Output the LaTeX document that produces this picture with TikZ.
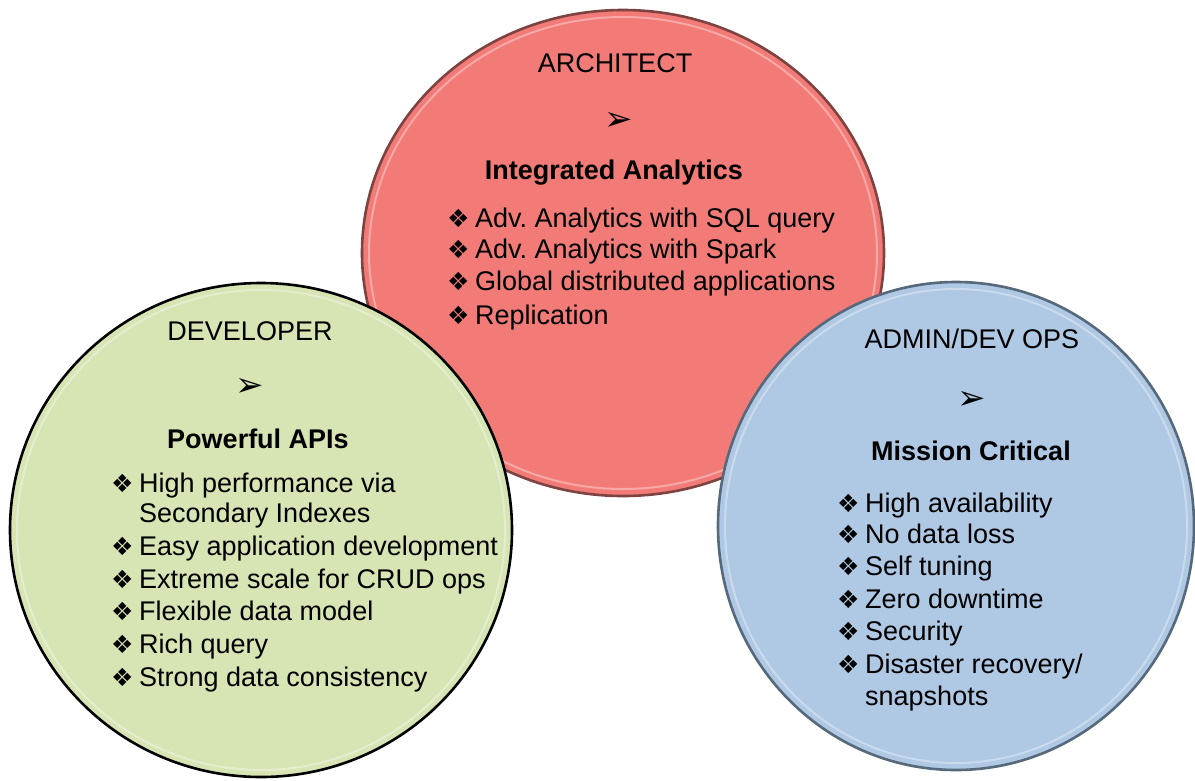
\documentclass[tikz,border=0pt]{standalone}
\usepackage{fontspec}
\setmainfont{Liberation Sans}
\newfontfamily\dingfont{DejaVu Sans}
\usetikzlibrary{shapes.geometric}
\definecolor{redfill}{HTML}{F27B78}
\definecolor{redline}{HTML}{7E4341}
\definecolor{greenfill}{HTML}{D7E4B4}
\definecolor{greenline}{HTML}{000000}
\definecolor{bluefill}{HTML}{AFC8E4}
\definecolor{blueline}{HTML}{56697B}
\newcommand{\bul}{\makebox[28pt][l]{\dingfont\fontsize{25}{25}\selectfont ❖}}
\frenchspacing
\begin{document}
\begin{tikzpicture}[x=1pt,y=-1pt,
  blob/.style={ellipse, inner sep=0pt, outer sep=0pt, line width=2.6pt},
  gloss/.style={draw=white, opacity=0.35, line width=2pt},
  lbl/.style={anchor=base, inner sep=0pt, font=\fontsize{27}{27}\selectfont},
  head/.style={anchor=base, inner sep=0pt, font=\bfseries\fontsize{27}{27}\selectfont},
  item/.style={anchor=base west, inner sep=0pt, font=\fontsize{27}{27}\selectfont},
  pointer/.style={inner sep=0pt, font=\dingfont\fontsize{34}{34}\selectfont}]
\useasboundingbox (0,0) rectangle (1195,780);

% ARCHITECT
\node[blob, fill=redfill, draw=redline, minimum width=522pt, minimum height=486pt] (arch) at (623,253) {};
\draw[gloss] (arch.center) ellipse [x radius=254, y radius=236];
\node[lbl] (archt) at (615,72) {ARCHITECT};
\node[pointer] (archp) at (619,121) {➢};
\node[head] (archh) at (614,179) {Integrated Analytics};
\node[item] (a1) at (447,227) {\bul Adv. Analytics with SQL query};
\node[item] (a2) at (447,258) {\bul Adv. Analytics with Spark};
\node[item] (a3) at (447,290) {\bul Global distributed applications};
\node[item] (a4) at (447,324) {\bul Replication};

% DEVELOPER
\node[blob, fill=greenfill, draw=greenline, minimum width=502pt, minimum height=494pt] (dev) at (261,530) {};
\draw[gloss] (dev.center) ellipse [x radius=244, y radius=240];
\node[lbl] (devt) at (250,340) {DEVELOPER};
\node[pointer] (devp) at (250,387) {➢};
\node[head] (devh) at (258,448) {Powerful APIs};
\node[item] (d1) at (111,492) {\bul High performance via};
\node[item] (d1b) at (139,522) {Secondary Indexes};
\node[item] (d2) at (111,555) {\bul Easy application development};
\node[item] (d3) at (111,588) {\bul Extreme scale for CRUD ops};
\node[item] (d4) at (111,620) {\bul Flexible data model};
\node[item] (d5) at (111,653) {\bul Rich query};
\node[item] (d6) at (111,686) {\bul Strong data consistency};

% ADMIN/DEV OPS
\node[blob, fill=bluefill, draw=blueline, minimum width=476pt, minimum height=488pt] (ops) at (956,526) {};
\draw[gloss] (ops.center) ellipse [x radius=231, y radius=237];
\node[lbl] (opst) at (972,348) {ADMIN/DEV OPS};
\node[pointer] (opsp) at (972,400) {➢};
\node[head] (opsh) at (971,460) {Mission Critical};
\node[item] (o1) at (837,512) {\bul High availability};
\node[item] (o2) at (837,543) {\bul No data loss};
\node[item] (o3) at (837,575) {\bul Self tuning};
\node[item] (o4) at (837,608) {\bul Zero downtime};
\node[item] (o5) at (837,640) {\bul Security};
\node[item] (o6) at (837,673) {\bul Disaster recovery/};
\node[item] (o6b) at (865,705) {snapshots};
\end{tikzpicture}
\end{document}
